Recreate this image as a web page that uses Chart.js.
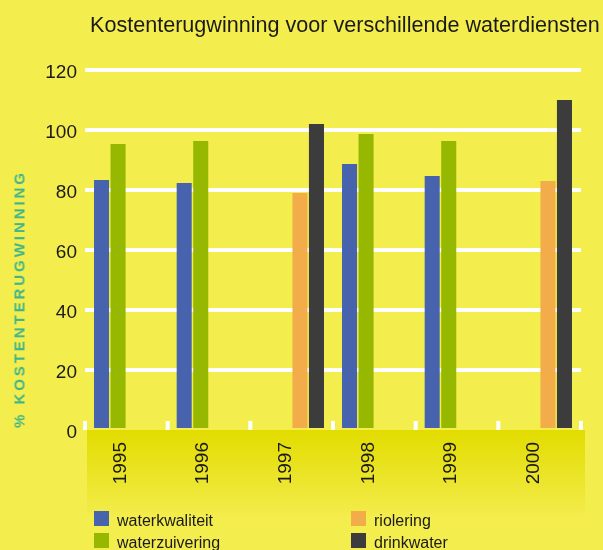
<!DOCTYPE html>
<html><head><meta charset="utf-8">
<script src="https://cdn.jsdelivr.net/npm/chart.js@4.4.1/dist/chart.umd.min.js"></script>
<style>
html,body{margin:0;padding:0;background:#f4ed4e;width:603px;height:550px;overflow:hidden;}
#wrap{position:relative;width:603px;height:550px;}
canvas{position:absolute;left:0;top:0;}
#title{position:absolute;left:90px;top:14px;font-family:"Liberation Sans",Arial,sans-serif;font-size:20px;line-height:22px;color:#1a1a1a;white-space:nowrap;}
#ylab{position:absolute;left:19px;top:299px;transform:translate(-50%,-50%) rotate(-90deg);font-family:"Liberation Sans",Arial,sans-serif;font-weight:bold;font-size:15px;line-height:17px;color:#3fb58a;white-space:nowrap;letter-spacing:3px;}
.leg{position:absolute;font-family:"Liberation Sans",Arial,sans-serif;font-size:16px;line-height:16px;color:#1a1a1a;white-space:nowrap;}
.sw{position:absolute;width:15px;height:15px;}
</style>
</head>
<body>
<div id="wrap">
<canvas id="c" width="603" height="550"></canvas>
<div id="title">Kostenterugwinning voor verschillende waterdiensten</div>
<div id="ylab">% KOSTENTERUGWINNING</div>
<div id="legend"></div>
</div>
<script>
// ---- data ----
const categories = ['1995', '1996', '1997', '1998', '1999', '2000'];
const seriesNames = ['waterkwaliteit', 'waterzuivering', 'riolering', 'drinkwater'];
const waterkwaliteit = [83.3, 82.3, null, 88.7, 84.7, null];
const waterzuivering = [95.3, 96.3, null, 98.7, 96.3, null];
const riolering = [null, null, 79, null, null, 83];
const drinkwater = [null, null, 102, null, null, 110];
const yTicks = [0, 20, 40, 60, 80, 100, 120];

// ---- styles ----
const colors = ['#4763ae', '#97b800', '#f2ac4a', '#3c3c3c'];
const FONT = '"Liberation Sans", Arial, sans-serif';
const TEXT = '#1a1a1a';

// fit title width and axis-title spacing
(function(){
  const m = document.createElement('canvas').getContext('2d');
  m.font = '20px ' + FONT;
  const w = m.measureText(document.getElementById('title').textContent).width;
  document.getElementById('title').style.fontSize = (20 * 510 / w).toFixed(2) + 'px';
  m.font = 'bold 15px ' + FONT;
  const t = document.getElementById('ylab').textContent;
  const w2 = m.measureText(t).width;
  document.getElementById('ylab').style.letterSpacing = ((258 - w2) / t.length).toFixed(2) + 'px';
})();

// legend (HTML)
const legendPos = [[94, 511], [94, 533], [351, 511], [351, 533]];
const legendEl = document.getElementById('legend');
seriesNames.forEach((n, i) => {
  const [x, y] = legendPos[i];
  const s = document.createElement('div');
  s.className = 'sw'; s.style.left = x + 'px'; s.style.top = y + 'px'; s.style.background = colors[i];
  legendEl.appendChild(s);
  const t = document.createElement('div');
  t.className = 'leg'; t.style.left = (x + 23) + 'px'; t.style.top = (y + 2) + 'px'; t.textContent = n;
  legendEl.appendChild(t);
});

const bandPlugin = {
  id: 'band',
  beforeDraw(chart) {
    const { ctx, chartArea } = chart;
    const top = chartArea.bottom;
    ctx.save();
    const g = ctx.createLinearGradient(0, top, 0, top + 86);
    g.addColorStop(0, '#e2dc00');
    g.addColorStop(1, '#f3ec4b');
    ctx.fillStyle = g;
    ctx.fillRect(chartArea.left + 2, top, 585 - chartArea.left - 2, 86);
    // white tick marks at category boundaries
    const xs = chart.scales.x;
    ctx.fillStyle = '#ffffff';
    const n = categories.length;
    for (let i = 0; i <= n; i++) {
      const x = xs.left + (xs.right - xs.left) * i / n;
      ctx.fillRect(x - 2, top - 9, 4, 9);
    }
    ctx.restore();
  }
};

const seriesData = [waterkwaliteit, waterzuivering, riolering, drinkwater];
new Chart(document.getElementById('c'), {
  type: 'bar',
  data: {
    labels: categories,
    datasets: seriesNames.map((n, i) => ({
      label: n,
      data: seriesData[i],
      backgroundColor: colors[i],
      borderWidth: 0,
      barPercentage: 0.91,
      categoryPercentage: 0.8
    }))
  },
  options: {
    responsive: false,
    animation: false,
    devicePixelRatio: 1,
    layout: { padding: { top: 70, right: 22, left: 0, bottom: 0 } },
    plugins: { legend: { display: false }, title: { display: false }, tooltip: { enabled: false } },
    scales: {
      x: {
        grid: { display: false, drawTicks: false },
        border: { display: false },
        ticks: { font: { family: FONT, size: 19 }, color: TEXT, minRotation: 90, maxRotation: 90, padding: 12, labelOffset: -6, autoSkip: false },
        afterFit(s) { s.height = 120; }
      },
      y: {
        min: 0, max: 120,
        afterBuildTicks(s) { s.ticks = yTicks.map(v => ({ value: v })); },
        grid: { color: c => (c.tick && c.tick.value === 0) ? 'rgba(0,0,0,0)' : '#ffffff', lineWidth: 4, drawTicks: false },
        border: { display: false },
        ticks: { font: { family: FONT, size: 19 }, color: TEXT, padding: 8, labelOffset: 3 },
        afterFit(s) { s.width = 85; }
      }
    }
  },
  plugins: [bandPlugin]
});
</script>
</body></html>
